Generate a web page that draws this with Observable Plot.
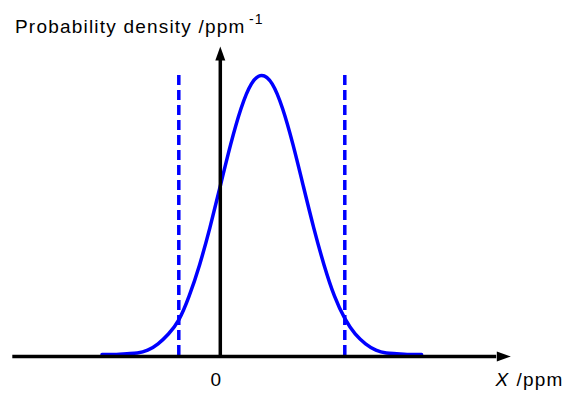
<!DOCTYPE html>
<html><head><meta charset="utf-8">
<script src="https://cdn.jsdelivr.net/npm/d3@7"></script>
<script src="https://cdn.jsdelivr.net/npm/@observablehq/plot@0.6"></script>
<style>
html,body{margin:0;padding:0;background:#fff;}
#chart svg text{letter-spacing:1.2px}
</style></head><body><div id="chart"></div>
<script>
// X positions (ppm) and probability densities
const xValues = [-2.85, -2.5, -2.25, -2, -1.75, -1.5, -1.25, -1, -0.75, -0.5, -0.25, 0, 0.25, 0.5, 0.75, 1,
                 1.25, 1.5, 1.75, 2, 2.25, 2.5, 2.75, 3, 3.25, 3.5, 3.75, 4, 4.25, 4.5, 4.85];
const densities = [0.003, 0.003, 0.004, 0.005, 0.009, 0.018, 0.032, 0.052, 0.086, 0.130, 0.183, 0.242, 0.301, 0.352, 0.387, 0.399,
                   0.387, 0.352, 0.301, 0.242, 0.183, 0.130, 0.086, 0.054, 0.032, 0.018, 0.009, 0.005, 0.004, 0.003, 0.003];
const intervalBounds = [-1, 3];
const tickValues = [0];
const xExtent = [-5, 7];
const yExtent = [0, 0.44];
const yLabel = "Probability density /ppm";
const yLabelSup = "-1";
const xLabelVar = "X";
const xLabelUnit = "/ppm";

const W = 563, H = 393, ML = 12.3, MR = 52.7, MT = 46, MB = 37;
const curve = xValues.map((x, i) => ({x, y: densities[i]}));
const peak = d3.max(densities);
const xLineEnd = xExtent[1] - 0.34;
const yLineEnd = yExtent[1] - 0.02;

const arrowRight = {draw(c) { c.moveTo(0, 0); c.lineTo(-14, -5); c.lineTo(-14, 5); c.closePath(); }};
const arrowUp = {draw(c) { c.moveTo(0, 0); c.lineTo(-5, 14); c.lineTo(5, 14); c.closePath(); }};

function label(text, px, py, o = {}) {
  return Plot.text([text], {frameAnchor: "top-left", dx: px - ML, dy: py - MT, text: d => d,
    textAnchor: "start", lineAnchor: "bottom", fill: "#000", fontSize: 19, ...o});
}

const chart = Plot.plot({
  width: W, height: H,
  marginLeft: ML, marginRight: MR, marginTop: MT, marginBottom: MB,
  style: {fontFamily: "'Liberation Sans', Arial, sans-serif", fontSize: "19px", background: "#fff", color: "#000"},
  x: {domain: xExtent},
  y: {domain: yExtent, axis: null},
  marks: [
    Plot.line(curve, {x: "x", y: "y", curve: "natural", stroke: "#0000ff", strokeWidth: 3.5}),
    Plot.ruleX(intervalBounds, {x: d => d, y1: peak, y2: 0, stroke: "#0000ff", strokeWidth: 3.5, strokeDasharray: "10,5"}),
    Plot.ruleY([0], {x1: xExtent[0], x2: xLineEnd, stroke: "#000", strokeWidth: 3.5}),
    Plot.ruleX([0], {y1: 0, y2: yLineEnd, stroke: "#000", strokeWidth: 3.5}),
    Plot.dot([{x: xExtent[1], y: 0}], {x: "x", y: "y", symbol: arrowRight, fill: "#000", stroke: "none"}),
    Plot.dot([{x: 0, y: yExtent[1]}], {x: "x", y: "y", symbol: arrowUp, fill: "#000", stroke: "none"}),
    Plot.axisX({ticks: tickValues, tickSize: 0, tickPadding: 15.5, fontSize: 19, dx: -4, label: null}),
    label(yLabel, 14.5, 32),
    label(yLabelSup, 248.5, 23, {fontSize: 14}),
    label(xLabelVar, 495, 385.5, {fontStyle: "italic"}),
    label(xLabelUnit, 516, 385.5)
  ]
});
document.getElementById("chart").appendChild(chart);
</script></body></html>
